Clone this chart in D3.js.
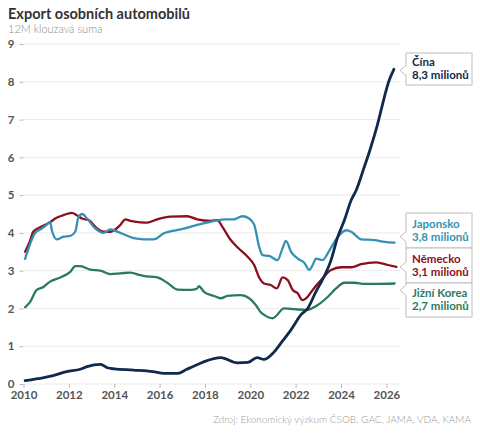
<!DOCTYPE html>
<html>
<head>
<meta charset="utf-8">
<script src="https://cdn.jsdelivr.net/npm/d3@7"></script>
<style>
  body { margin: 0; background: #fff; }
  text { font-family: Lato, "Open Sans", sans-serif; }
</style>
</head>
<body>
<div id="chart"></div>
<script>
// Data: [year, millions of cars], 12M rolling sum
const china = [
  [2010.07,0.09],[2010.9,0.17],[2011.3,0.22],[2011.9,0.33],[2012.5,0.39],[2012.8,0.46],
  [2013.4,0.52],[2013.7,0.43],[2014.0,0.40],[2014.85,0.37],[2015.7,0.33],[2016.2,0.28],
  [2016.8,0.28],[2017.2,0.39],[2017.8,0.55],[2018.0,0.60],[2018.7,0.70],[2019.43,0.56],
  [2019.88,0.57],[2020.3,0.70],[2020.6,0.65],[2021.05,0.85],[2021.4,1.12],[2021.8,1.44],
  [2022.23,1.83],[2022.53,2.0],[2022.9,2.45],[2023.2,2.78],[2023.56,3.28],[2023.86,3.9],
  [2024.15,4.34],[2024.45,4.87],[2024.67,5.13],[2025.0,5.7],[2025.3,6.24],[2025.6,6.85],
  [2025.9,7.57],[2026.1,8.0],[2026.33,8.33]
];
const japan = [
  [2010.07,3.31],[2010.3,3.72],[2010.5,3.99],[2010.73,4.09],[2011.0,4.2],[2011.17,4.29],
  [2011.25,4.07],[2011.47,3.83],[2011.76,3.9],[2012.06,3.92],[2012.28,4.03],[2012.43,4.43],
  [2012.58,4.5],[2012.8,4.38],[2013.16,4.12],[2013.53,4.0],[2013.83,4.09],[2014.27,4.0],
  [2014.86,3.86],[2015.3,3.83],[2015.74,3.83],[2016.19,3.99],[2016.92,4.09],[2017.66,4.21],
  [2018.25,4.29],[2018.84,4.36],[2019.28,4.36],[2019.65,4.44],[2019.95,4.38],[2020.17,4.22],
  [2020.39,3.63],[2020.54,3.41],[2020.83,3.39],[2021.2,3.28],[2021.42,3.59],[2021.57,3.79],
  [2021.8,3.5],[2022.09,3.32],[2022.38,3.21],[2022.6,3.02],[2022.75,3.15],[2022.9,3.32],
  [2023.19,3.28],[2023.49,3.54],[2023.86,3.9],[2024.23,4.07],[2024.45,4.03],[2024.89,3.83],
  [2025.48,3.81],[2025.92,3.76],[2026.36,3.74]
];
const germany = [
  [2010.07,3.5],[2010.3,3.81],[2010.43,4.03],[2010.73,4.15],[2011.17,4.28],[2011.4,4.38],
  [2011.76,4.47],[2012.13,4.53],[2012.35,4.47],[2012.58,4.38],[2012.87,4.34],[2013.24,4.12],
  [2013.53,4.03],[2013.83,4.03],[2014.27,4.21],[2014.49,4.36],[2014.71,4.32],[2015.15,4.28],
  [2015.45,4.27],[2015.9,4.36],[2016.48,4.43],[2017.22,4.44],[2017.66,4.36],[2018.25,4.32],
  [2018.55,4.34],[2018.77,4.16],[2019.14,3.81],[2019.43,3.62],[2019.88,3.37],[2020.17,3.15],
  [2020.39,2.82],[2020.61,2.66],[2020.9,2.62],[2021.17,2.53],[2021.42,2.82],[2021.65,2.75],
  [2021.87,2.49],[2022.09,2.4],[2022.3,2.22],[2022.53,2.31],[2022.75,2.49],[2023.12,2.75],
  [2023.56,3.02],[2024.0,3.09],[2024.45,3.09],[2024.89,3.17],[2025.55,3.22],[2026.07,3.15],
  [2026.44,3.1]
];
const korea = [
  [2010.07,2.03],[2010.3,2.18],[2010.58,2.49],[2010.88,2.57],[2011.17,2.71],[2011.62,2.82],
  [2012.06,2.97],[2012.28,3.12],[2012.5,3.12],[2012.94,3.03],[2013.39,3.0],[2013.83,2.91],
  [2014.27,2.93],[2014.71,2.95],[2015.15,2.88],[2015.3,2.86],[2015.9,2.82],[2016.34,2.68],
  [2016.78,2.5],[2017.37,2.49],[2017.66,2.53],[2017.73,2.59],[2017.96,2.44],[2018.4,2.33],
  [2018.7,2.27],[2018.99,2.33],[2019.58,2.35],[2019.95,2.27],[2020.24,2.09],[2020.46,1.9],
  [2020.61,1.83],[2020.98,1.74],[2021.5,2.0],[2021.94,1.98],[2022.46,1.96],[2022.97,2.09],
  [2023.42,2.31],[2023.78,2.53],[2024.15,2.68],[2024.6,2.68],[2025.04,2.65],[2025.63,2.65],
  [2026.36,2.66]
];

const seriesNames  = ['Čína', 'Japonsko', 'Německo', 'Jižní Korea'];
const seriesLabels = ['8,3 milionů', '3,8 milionů', '3,1 milionů', '2,7 milionů'];
const seriesColors = ['#0f2a4d', '#3591b3', '#8c0f1d', '#2c7a5c'];
const seriesData   = [china, japan, germany, korea];
const yTicks = [0, 1, 2, 3, 4, 5, 6, 7, 8, 9];
const xTicks = [2010, 2012, 2014, 2016, 2018, 2020, 2022, 2024, 2026];

const widthContainer  = 480;
const heightContainer = 436;
const margin = {top: 44, left: 23.5, right: 80, bottom: 52};

const svg = d3.select('#chart')
  .append('svg')
  .attr('width', widthContainer)
  .attr('height', heightContainer);

const xScale = d3.scaleLinear()
  .domain([2010, 2026.6])
  .range([margin.left, widthContainer - margin.right]);

const yScale = d3.scaleLinear()
  .domain([0, 9])
  .range([heightContainer - margin.bottom, margin.top]);

// Title
svg.append('text')
  .attr('x', 8).attr('y', 19)
  .style('font-size', '14.5px').style('font-weight', 700).style('fill', '#333')
  .text('Export osobních automobilů');

svg.append('text')
  .attr('x', 8).attr('y', 33)
  .style('font-size', '11px').style('font-weight', 300).style('fill', '#8a8a8a')
  .text('12M klouzavá suma');

// gridlines
svg.append('g')
  .selectAll('line')
  .data(yTicks)
  .join('line')
  .attr('x1', xScale(2010)).attr('x2', xScale(2026.6))
  .attr('y1', d => yScale(d)).attr('y2', d => yScale(d))
  .style('stroke', '#ebebeb').style('stroke-width', 1);

// y-axis
const yAxis = svg.append('g')
  .attr('transform', `translate(${margin.left}, 0)`)
  .call(d3.axisLeft(yScale).tickValues(yTicks).tickSize(4).tickPadding(5));
yAxis.select('.domain').remove();
yAxis.selectAll('line').style('stroke', '#bbb');
yAxis.selectAll('text')
  .style('font-size', '11.5px').style('font-weight', 700).style('fill', '#555')
  .style('font-family', 'Lato, sans-serif');

// x-axis
const xAxis = svg.append('g')
  .attr('transform', `translate(0, ${yScale(0)})`)
  .call(d3.axisBottom(xScale).tickValues(xTicks).tickFormat(d3.format('d')).tickSize(4).tickPadding(3));
xAxis.select('.domain').remove();
xAxis.selectAll('line').style('stroke', '#bbb');
xAxis.selectAll('text')
  .style('font-size', '11.5px').style('font-weight', 700).style('fill', '#555')
  .style('font-family', 'Lato, sans-serif');

// lines
const line = d3.line()
  .x(d => xScale(d[0]))
  .y(d => yScale(d[1]))
  .curve(d3.curveMonotoneX);

const drawOrder = [3, 2, 1, 0];
drawOrder.forEach(i => {
  svg.append('path')
    .datum(seriesData[i])
    .attr('d', line)
    .style('fill', 'none')
    .style('stroke', seriesColors[i])
    .style('stroke-width', i === 0 ? 2.8 : 2.3)
    .style('stroke-linejoin', 'round')
    .style('stroke-linecap', 'round');
});

// labels (callout boxes)
const boxes = [
  {top: 53,  bottom: 85,  tip: 8.3},
  {top: 213, bottom: 248, tip: 3.9},
  {top: 248, bottom: 283, tip: 3.1},
  {top: 283, bottom: 317, tip: 2.48}
];
const boxLeft = 406, boxRight = 472, tipX = 400;

boxes.forEach((b, i) => {
  const ty = yScale(b.tip);
  const mid = Math.min(Math.max(ty, b.top + 6), b.bottom - 6);
  const p = d3.path();
  p.moveTo(boxLeft, b.top);
  p.lineTo(boxRight, b.top);
  p.lineTo(boxRight, b.bottom);
  p.lineTo(boxLeft, b.bottom);
  p.lineTo(boxLeft, mid + 5);
  p.lineTo(tipX, ty);
  p.lineTo(boxLeft, mid - 5);
  p.closePath();
  svg.append('path')
    .attr('d', p.toString())
    .style('fill', '#fff')
    .style('stroke', '#bdbdbd')
    .style('stroke-width', 1);

  const cy = (b.top + b.bottom) / 2;
  svg.append('text')
    .attr('x', boxLeft + 6).attr('y', cy - 3)
    .style('font-size', '11.5px').style('font-weight', 700).style('fill', seriesColors[i])
    .text(seriesNames[i]);
  svg.append('text')
    .attr('x', boxLeft + 6).attr('y', cy + 10)
    .style('font-size', '11.5px').style('font-weight', 700).style('fill', seriesColors[i])
    .text(seriesLabels[i]);
});

// source
svg.append('text')
  .attr('x', 471).attr('y', 423)
  .attr('text-anchor', 'end')
  .style('font-size', '10px').style('font-weight', 300).style('fill', '#999')
  .text('Zdroj: Ekonomický výzkum ČSOB, GAC, JAMA, VDA, KAMA');
</script>
</body>
</html>
